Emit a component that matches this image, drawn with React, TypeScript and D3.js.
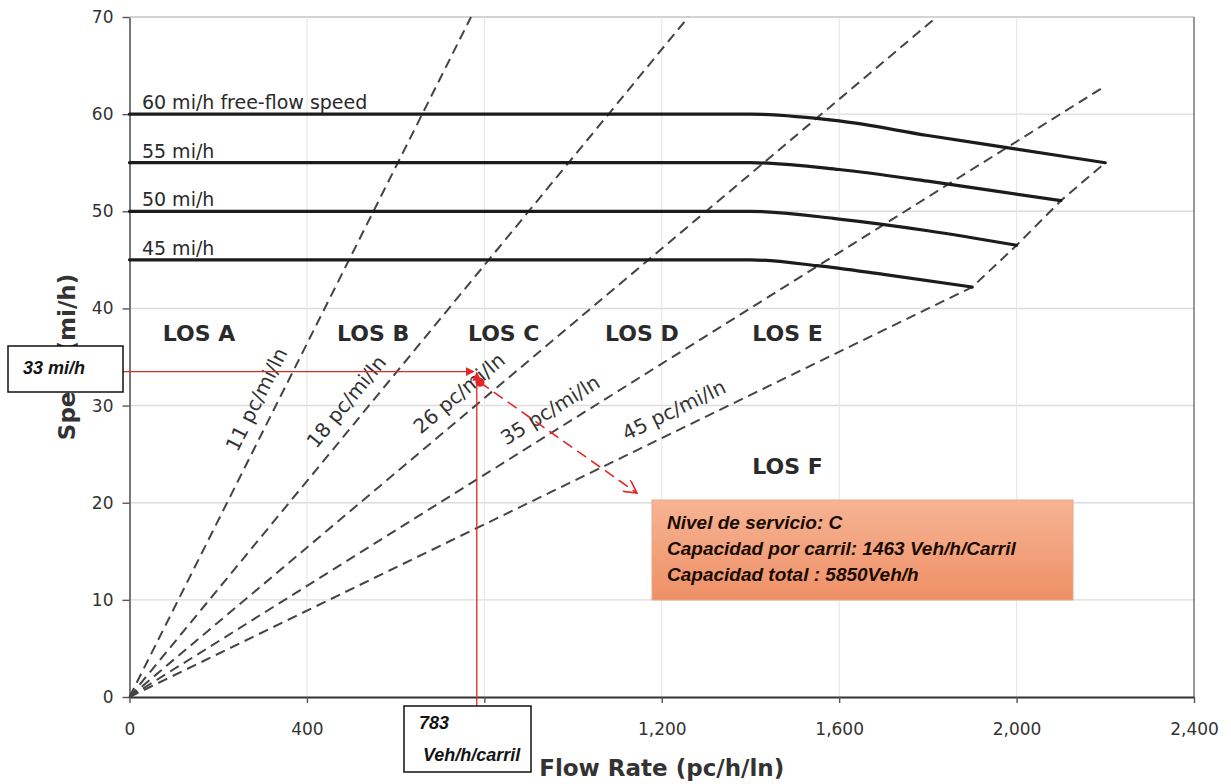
import React, { useRef, useEffect } from "react";
import * as d3 from "d3";

// Axis ticks
const flowTicks = [0, 400, 800, 1200, 1600, 2000, 2400];
const speedTicks = [0, 10, 20, 30, 40, 50, 60, 70];

// Speed-flow curves: [flow pc/h/ln, speed mi/h]
const ffsNames = ["60 mi/h free-flow speed", "55 mi/h", "50 mi/h", "45 mi/h"];
const curve60 = [[0, 60], [1400, 60], [1600, 59.3], [1800, 57.8], [2000, 56.4], [2200, 55]];
const curve55 = [[0, 55], [1400, 55], [1600, 54.3], [1800, 53.1], [1950, 52.1], [2100, 51.1]];
const curve50 = [[0, 50], [1400, 50], [1600, 49.2], [1800, 48], [2000, 46.5]];
const curve45 = [[0, 45], [1400, 45], [1550, 44.4], [1700, 43.5], [1900, 42.2]];
const curves = [curve60, curve55, curve50, curve45];

// Density lines (pc/mi/ln), drawn from the origin to where they stop
const densityNames = ["11 pc/mi/ln", "18 pc/mi/ln", "26 pc/mi/ln", "35 pc/mi/ln", "45 pc/mi/ln"];
const densityEnds = [[770, 70], [1260, 70], [1820, 70], [2200, 62.9], [1900, 42.2]];
const densityLabelSpeed = [29.7, 29.1, 29.7, 27.8, 27.7];
// LOS E/F boundary along the capacity points
const losFBoundary = [[1900, 42.2], [2000, 46.5], [2100, 51.1], [2200, 55]];

// LOS zone labels
const losNames = ["LOS A", "LOS B", "LOS C", "LOS D", "LOS E", "LOS F"];
const losFlow = [75, 468, 763, 1072, 1404, 1404];
const losSpeed = [36.6, 36.6, 36.6, 36.6, 36.6, 23.0];

// Operating point annotation
const pointFlow = 783;
const pointSpeed = 33.5;
const arrowFrom = [790, 32.4];
const arrowTo = [1144, 21];
const speedNote = "33 mi/h";
const flowNote = ["783", "Veh/h/carril"];
const resultNote = [
  "Nivel de servicio: C",
  "Capacidad por carril: 1463 Veh/h/Carril",
  "Capacidad total : 5850Veh/h",
];

const W = 1231, H = 784;
const FONT = "'DejaVu Sans', Verdana, sans-serif";
const NOTE_FONT = "'Liberation Sans', Arial, sans-serif";
const RED = "#e32626";

export default function App() {
  const svgRef = useRef(null);

  useEffect(() => {
    document.body.style.margin = "0";
    const svg = d3.select(svgRef.current);
    svg.selectAll("*").remove();

    const x = d3.scaleLinear().domain([0, 2400]).range([129.5, 1194]);
    const y = d3.scaleLinear().domain([0, 70]).range([697, 17]);

    const defs = svg.append("defs");
    const grad = defs.append("linearGradient").attr("id", "orange").attr("x1", 0).attr("x2", 0).attr("y1", 0).attr("y2", 1);
    grad.append("stop").attr("offset", "0%").attr("stop-color", "#f6b494");
    grad.append("stop").attr("offset", "100%").attr("stop-color", "#ef9066");

    defs.append("marker")
      .attr("id", "solidHead").attr("viewBox", "0 0 10 10")
      .attr("refX", 9).attr("refY", 5).attr("markerWidth", 9).attr("markerHeight", 9)
      .attr("markerUnits", "userSpaceOnUse").attr("orient", "auto")
      .append("path").attr("d", "M0,0 L10,5 L0,10 z").attr("fill", RED);
    defs.append("marker")
      .attr("id", "openHead").attr("viewBox", "0 0 12 12")
      .attr("refX", 11).attr("refY", 6).attr("markerWidth", 14).attr("markerHeight", 14)
      .attr("markerUnits", "userSpaceOnUse").attr("orient", "auto")
      .append("path").attr("d", "M0,0 L11,6 L0,12").attr("fill", "none").attr("stroke", RED).attr("stroke-width", 1.4);

    svg.append("rect").attr("width", W).attr("height", H).attr("fill", "#fff");

    // Grid
    svg.append("g").selectAll("line").data(speedTicks.slice(1)).join("line")
      .attr("x1", x(0)).attr("x2", x(2400)).attr("y1", d => y(d)).attr("y2", d => y(d))
      .attr("stroke", (d) => d === 70 ? "#c4c4c4" : "#dcdcdc").attr("stroke-width", 1.4);
    svg.append("g").selectAll("line").data(flowTicks.slice(1, -1)).join("line")
      .attr("x1", d => x(d)).attr("x2", d => x(d)).attr("y1", y(0)).attr("y2", y(70))
      .attr("stroke", "#e8e8e8").attr("stroke-width", 1.2);
    svg.append("line")
      .attr("x1", x(2400)).attr("x2", x(2400)).attr("y1", y(0)).attr("y2", y(70))
      .attr("stroke", "#777").attr("stroke-width", 1.5);

    // Axes
    const yAxis = d3.axisLeft(y).tickValues(speedTicks).tickSize(7).tickSizeOuter(0).tickPadding(9);
    const xAxis = d3.axisBottom(x).tickValues(flowTicks).tickFormat(d3.format(",")).tickSize(6).tickSizeOuter(0).tickPadding(20);
    const yg = svg.append("g").attr("transform", `translate(${x(0)},0)`).call(yAxis);
    const xg = svg.append("g").attr("transform", `translate(0,${y(0)})`).call(xAxis);
    [yg, xg].forEach(g => {
      g.selectAll("text").attr("font-family", FONT).attr("font-size", 17).attr("fill", "#333");
      g.selectAll("line").attr("stroke", "#555").attr("stroke-width", 1.4);
    });
    yg.select(".domain").attr("stroke", "#555").attr("stroke-width", 1.6);
    xg.select(".domain").attr("stroke", "#333").attr("stroke-width", 2.2);

    // Axis titles
    svg.append("text")
      .attr("transform", `translate(75,${(y(0) + y(70)) / 2}) rotate(-90)`)
      .attr("text-anchor", "middle").attr("font-family", FONT).attr("font-weight", "bold")
      .attr("font-size", 23).attr("fill", "#333").text("Speed (mi/h)");
    svg.append("text")
      .attr("x", (x(0) + x(2400)) / 2).attr("y", 776)
      .attr("text-anchor", "middle").attr("font-family", FONT).attr("font-weight", "bold")
      .attr("font-size", 23).attr("fill", "#333").text("Flow Rate (pc/h/ln)");

    const line = d3.line().x(d => x(d[0])).y(d => y(d[1]));

    // Density lines
    densityEnds.forEach((end, i) => {
      const pts = i === densityEnds.length - 1 ? [[0, 0], ...losFBoundary] : [[0, 0], end];
      svg.append("path").attr("d", line(pts))
        .attr("fill", "none").attr("stroke", "#444").attr("stroke-width", 2)
        .attr("stroke-dasharray", "10 6");

      const dx = x(end[0]) - x(0), dy = y(end[1]) - y(0);
      const len = Math.hypot(dx, dy);
      const angle = Math.atan2(dy, dx) * 180 / Math.PI;
      const nx = dy / len, ny = -dx / len;
      const s = densityLabelSpeed[i];
      const flow = end[0] / end[1] * s;
      const cx = x(flow) + nx * 20, cy = y(s) + ny * 20;
      svg.append("text")
        .attr("transform", `translate(${cx},${cy}) rotate(${angle})`)
        .attr("text-anchor", "middle").attr("dominant-baseline", "central")
        .attr("font-family", FONT).attr("font-size", 20).attr("fill", "#333")
        .text(densityNames[i]);
    });

    // Speed-flow curves
    const smooth = d3.line().x(d => x(d[0])).y(d => y(d[1])).curve(d3.curveMonotoneX);
    curves.forEach((c, i) => {
      svg.append("path").attr("d", smooth(c))
        .attr("fill", "none").attr("stroke", "#1c1c1c").attr("stroke-width", 3.2)
        .attr("stroke-linecap", "round");
      svg.append("text")
        .attr("x", x(28)).attr("y", y(c[0][1]) - 5)
        .attr("font-family", FONT).attr("font-size", 19).attr("fill", "#2a2a2a")
        .text(ffsNames[i]);
    });

    // LOS labels
    losNames.forEach((n, i) => {
      svg.append("text")
        .attr("x", x(losFlow[i])).attr("y", y(losSpeed[i]))
        .attr("font-family", FONT).attr("font-weight", "bold").attr("font-size", 22)
        .attr("fill", "#2b2b2b").text(n);
    });

    // Red operating point annotation
    svg.append("line")
      .attr("x1", 123).attr("x2", x(pointFlow) - 3).attr("y1", y(pointSpeed)).attr("y2", y(pointSpeed))
      .attr("stroke", RED).attr("stroke-width", 1.3).attr("marker-end", "url(#solidHead)");
    svg.append("line")
      .attr("x1", x(pointFlow)).attr("x2", x(pointFlow)).attr("y1", 706).attr("y2", y(pointSpeed) + 1)
      .attr("stroke", RED).attr("stroke-width", 1.3).attr("marker-end", "url(#solidHead)");
    svg.append("circle")
      .attr("cx", x(arrowFrom[0])).attr("cy", y(arrowFrom[1])).attr("r", 4.5).attr("fill", RED);
    svg.append("line")
      .attr("x1", x(arrowFrom[0])).attr("y1", y(arrowFrom[1]))
      .attr("x2", x(arrowTo[0])).attr("y2", y(arrowTo[1]))
      .attr("stroke", RED).attr("stroke-width", 1.6).attr("stroke-dasharray", "11 6")
      .attr("marker-end", "url(#openHead)");

    // Note boxes
    const noteText = (g, tx, ty, t, size) => g.append("text")
      .attr("x", tx).attr("y", ty).attr("font-family", NOTE_FONT)
      .attr("font-style", "italic").attr("font-weight", "bold")
      .attr("font-size", size).attr("fill", "#141414").text(t);

    const g1 = svg.append("g");
    g1.append("rect").attr("x", 8).attr("y", 346).attr("width", 115).attr("height", 46)
      .attr("fill", "#fff").attr("stroke", "#111").attr("stroke-width", 1.5);
    noteText(g1, 23, 374, speedNote, 18);

    const g2 = svg.append("g");
    g2.append("rect").attr("x", 404).attr("y", 706).attr("width", 127).attr("height", 66)
      .attr("fill", "#fff").attr("stroke", "#111").attr("stroke-width", 1.5);
    noteText(g2, 419, 729, flowNote[0], 18);
    noteText(g2, 423, 761, flowNote[1], 18);

    const g3 = svg.append("g");
    g3.append("rect").attr("x", 652).attr("y", 500).attr("width", 421).attr("height", 100)
      .attr("fill", "url(#orange)").attr("stroke", "#eaa688").attr("stroke-width", 1);
    resultNote.forEach((t, i) => noteText(g3, 667, 529 + i * 26, t, 19).attr("fill", "#1a0c04"));
  }, []);

  return <svg ref={svgRef} width={W} height={H} style={{ display: "block" }} />;
}
